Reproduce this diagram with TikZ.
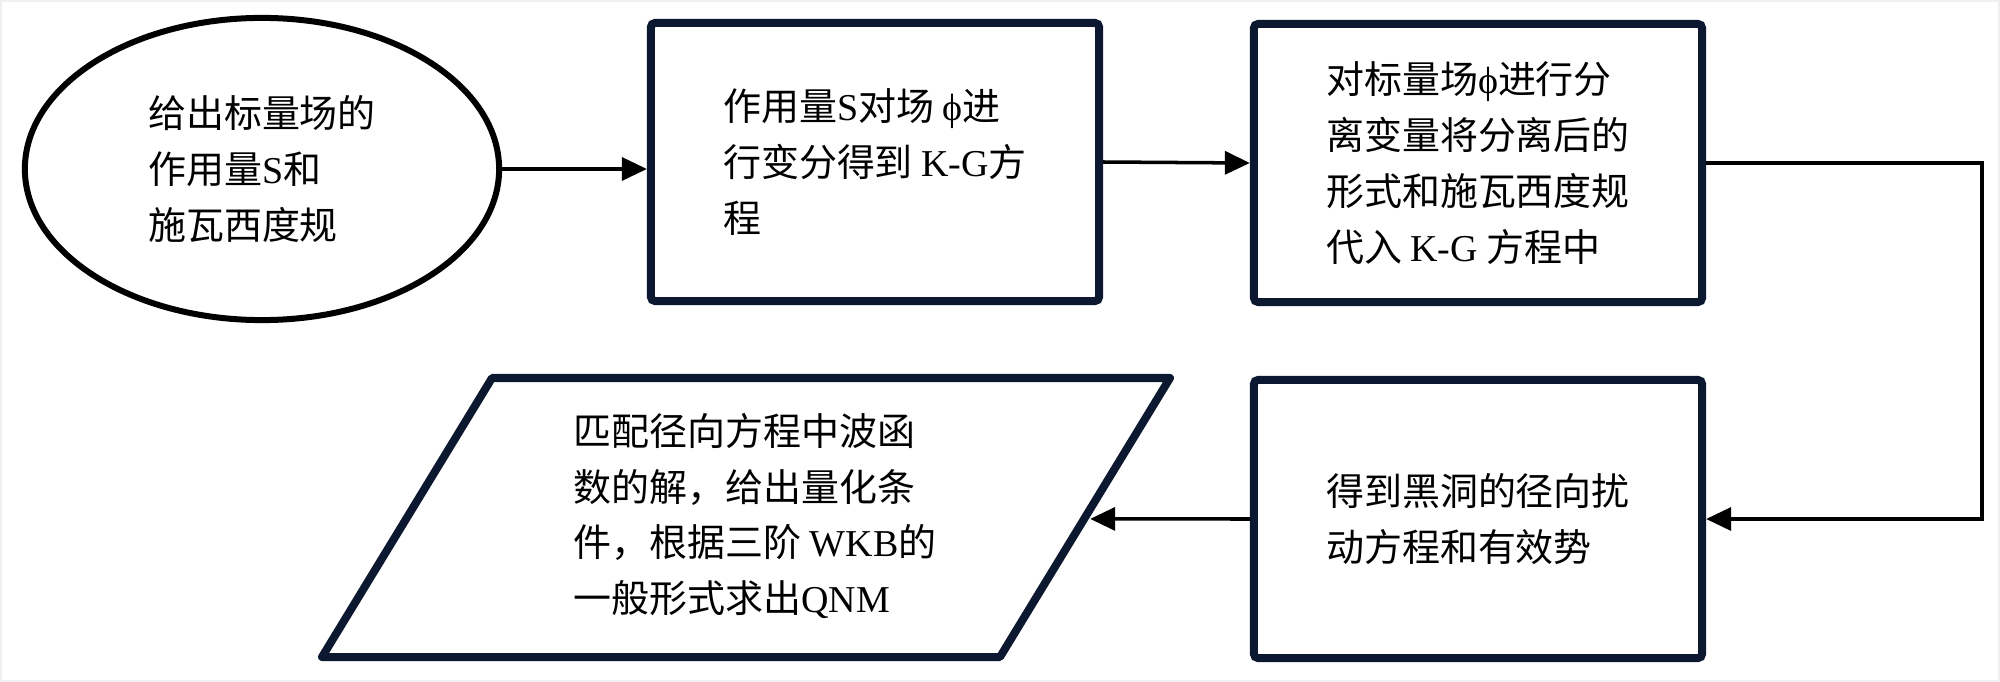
\documentclass[tikz,border=0pt]{standalone}
\usepackage{fontspec}
\setmainfont{Noto Sans CJK SC}
\newfontfamily\lat{Liberation Serif}
\usetikzlibrary{shapes.geometric,arrows.meta,calc}
\definecolor{boxc}{RGB}{12,24,48}
\begin{document}
\begin{tikzpicture}[x=0.01cm,y=-0.01cm,
  txt/.style={font={\fontsize{10.8pt}{15.9pt}\selectfont}, align=left, inner sep=0pt},
  stepbox/.style={txt, draw=boxc, line width=0.08cm, rounded corners=1.2pt, minimum width=4.48cm, minimum height=2.78cm, fill=white},
  startnode/.style={txt, ellipse, draw=black, line width=0.06cm, minimum width=4.74cm, minimum height=3.02cm},
  parashape/.style={draw=boxc, line width=0.08cm, line join=round, fill=white},
  frame/.style={draw=gray!12, line width=0.015cm},
  arr/.style={line width=1pt, -{Triangle[length=0.25cm,width=0.23cm]}},
]
\useasboundingbox (0,0) rectangle (2000,682);
\draw[frame] (1,1) rectangle (1999,681);

\node[startnode] (e) at (262,169) {给出标量场的\\作用量{\lat S}和\\施瓦西度规};
\node[stepbox] (b2) at (875,162) {作用量{\lat S}对场 {\lat ϕ}进\\行变分得到 {\lat K-G}方\\程};
\node[stepbox] (b3) at (1478,163) {对标量场{\lat ϕ}进行分\\离变量将分离后的\\形式和施瓦西度规\\代入 {\lat K-G} 方程中};
\node[stepbox] (b5) at (1478,519) {得到黑洞的径向扰\\动方程和有效势};

\coordinate (ptl) at (492,378);
\coordinate (ptr) at (1170,378);
\coordinate (pbr) at (1000,657);
\coordinate (pbl) at (322,657);
\draw[parashape] (ptl) -- (ptr) -- (pbr) -- (pbl) -- cycle;
\node[txt] (p) at (755,516) {匹配径向方程中波函\\数的解，给出量化条\\件，根据三阶 {\lat WKB}的\\一般形式求出{\lat QNM}};

\draw[arr] (e.east) -- (b2.west |- e.east);
\draw[arr] (b2.east) -- (b3.west);
\coordinate (t1) at (1982,163);
\draw[arr] (b3.east) -- (t1) |- (b5.east);
\coordinate (pin) at ($(ptr)!0.505!(pbr)$);
\draw[arr, shorten >=0.06cm] (b5.west) -- (pin);
\end{tikzpicture}
\end{document}
